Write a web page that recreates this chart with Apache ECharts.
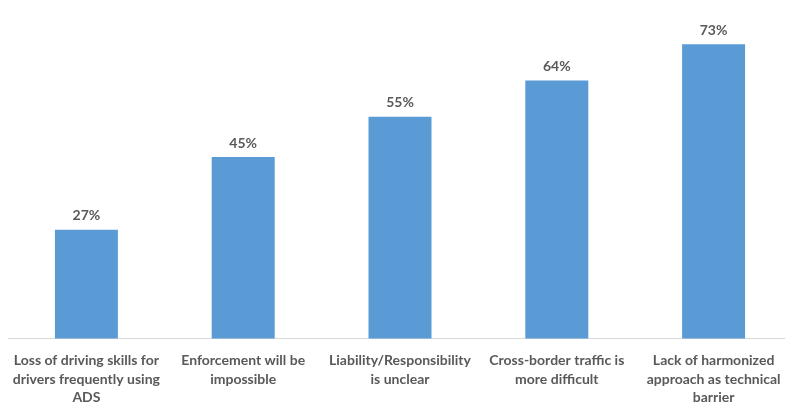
<!DOCTYPE html>
<html>
<head>
<meta charset="utf-8">
<script src="https://cdn.jsdelivr.net/npm/echarts@6/dist/echarts.min.js"></script>
<style>
  html, body { margin: 0; padding: 0; background: #ffffff; overflow: hidden; }
  #chart { width: 800px; height: 407px; }
</style>
</head>
<body>
<div id="chart"></div>
<script>
// Reasons cited, with wrapped labels for the category axis
const categories = [
  'Loss of driving skills for\ndrivers frequently using\nADS',
  'Enforcement will be\nimpossible',
  'Liability/Responsibility\nis unclear',
  'Cross-border traffic is\nmore difficult',
  'Lack of harmonized\napproach as technical\nbarrier'
];
// Share of respondents (%)
const shares = [27, 45, 55, 64, 73];

const chart = echarts.init(document.getElementById('chart'), null, { renderer: 'canvas' });

chart.setOption({
  animation: false,
  backgroundColor: '#ffffff',
  grid: { left: 8, right: 8, top: 16, bottom: 66, containLabel: false },
  xAxis: {
    type: 'category',
    data: categories,
    axisLine: { show: true, lineStyle: { color: '#d9d9d9', width: 1 } },
    axisTick: { show: false },
    axisLabel: {
      interval: 0,
      margin: 13,
      color: '#595959',
      fontFamily: 'Lato',
      fontWeight: 'bold',
      fontSize: 14,
      lineHeight: 18.5,
      align: 'center'
    }
  },
  yAxis: {
    type: 'value',
    min: 0,
    max: 80,
    show: false,
    splitLine: { show: false }
  },
  series: [{
    type: 'bar',
    data: shares,
    barWidth: 63,
    itemStyle: { color: '#5b9bd5' },
    label: {
      show: true,
      position: 'top',
      distance: 7,
      formatter: '{c}%',
      color: '#595959',
      fontFamily: 'Lato',
      fontWeight: 'bold',
      fontSize: 14
    }
  }]
});
</script>
</body>
</html>
